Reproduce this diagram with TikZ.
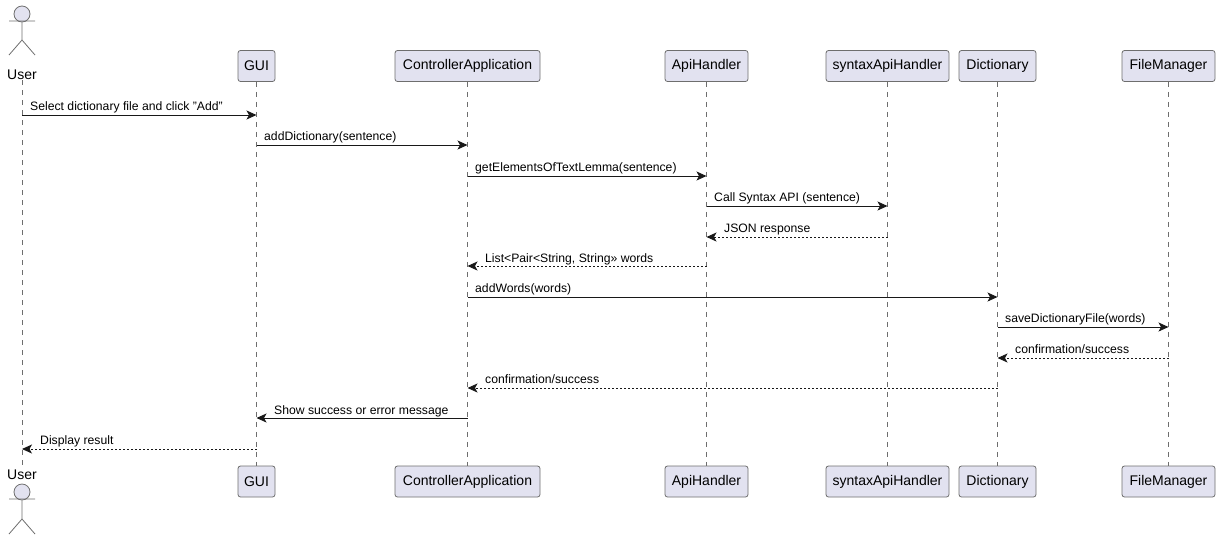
\documentclass[tikz,border=0pt]{standalone}
\usepackage{fontspec}
\setmainfont{Liberation Sans}
\usetikzlibrary{arrows.meta}

\definecolor{partfill}{HTML}{E2E2F0}
\definecolor{partline}{HTML}{6E6E6E}
\definecolor{msgline}{HTML}{181818}

\tikzset{
    part/.style={draw=partline,fill=partfill,rounded corners=2.5pt,line width=0.8pt,minimum height=31pt,inner xsep=0pt,inner ysep=0pt,font=\fontsize{14}{16}\selectfont,text=black},
    life/.style={draw=partline,line width=0.7pt,dash pattern=on 5pt off 5pt},
    actorline/.style={draw=partline,line width=0.8pt},
    msg/.style={draw=msgline,line width=0.9pt,-{Stealth[length=10pt,width=9pt,inset=2.5pt]}},
    reply/.style={msg,dash pattern=on 2pt off 2pt},
    msgtext/.style={anchor=base west,inner sep=0pt,font=\fontsize{12.2}{14}\selectfont,text=black},
    actortext/.style={inner sep=0pt,font=\fontsize{14}{16}\selectfont,text=black}
}

\begin{document}
\begin{tikzpicture}[x=1pt,y=-1pt]
        \useasboundingbox (0,0) rectangle (1220,547);

        % lifeline heads
        \node[actortext] (userTop) at (22,75) {User};
        \node[part,minimum width=37pt] (guiTop) at (256.5,66) {GUI};
        \node[part,minimum width=145pt] (ctrlTop) at (467.5,66) {ControllerApplication};
        \node[part,minimum width=83pt] (apiTop) at (706.5,66) {ApiHandler};
        \node[part,minimum width=123pt] (syntaxTop) at (887.5,66) {syntaxApiHandler};
        \node[part,minimum width=77pt] (dictTop) at (997.5,66) {Dictionary};
        \node[part,minimum width=93pt] (fileTop) at (1168.5,66) {FileManager};

        \node[actortext] (userBot) at (22,475) {User};
        \node[part,minimum width=37pt] (guiBot) at (256.5,481.5) {GUI};
        \node[part,minimum width=145pt] (ctrlBot) at (467.5,481.5) {ControllerApplication};
        \node[part,minimum width=83pt] (apiBot) at (706.5,481.5) {ApiHandler};
        \node[part,minimum width=123pt] (syntaxBot) at (887.5,481.5) {syntaxApiHandler};
        \node[part,minimum width=77pt] (dictBot) at (997.5,481.5) {Dictionary};
        \node[part,minimum width=93pt] (fileBot) at (1168.5,481.5) {FileManager};

        % lifelines
        \foreach \who in {user,gui,ctrl,api,syntax,dict,file}
            \draw[life] (\who Top) -- (\who Bot);

        % actors
        \node[circle,draw=partline,fill=partfill,line width=0.8pt,minimum size=16pt,inner sep=0pt] (headTop) at (22,14) {};
        \draw[actorline] (headTop) -- ++(0,26) ++(-13,-19) -- ++(26,0) ++(-13,19) -- ++(-13,15) ++(13,-15) -- ++(13,15);
        \node[circle,draw=partline,fill=partfill,line width=0.8pt,minimum size=16pt,inner sep=0pt] (headBot) at (22,492) {};
        \draw[actorline] (headBot) -- ++(0,27) ++(-13,-20) -- ++(26,0) ++(-13,20) -- ++(-13,15) ++(13,-15) -- ++(13,15);

        % message rows
        \foreach \row/\ypos in {1/115,2/145,3/176,4/206,5/237,6/266,7/297,8/327,9/358,10/388,11/418,12/449}
            \coordinate (row\row) at (0,\ypos);

        \draw[msg] (userTop |- row1) -- (guiTop |- row1);
        \draw[msg] (guiTop |- row2) -- (ctrlTop |- row2);
        \draw[msg] (ctrlTop |- row3) -- (apiTop |- row3);
        \draw[msg] (apiTop |- row4) -- (syntaxTop |- row4);
        \draw[reply] (syntaxTop |- row5) -- (apiTop |- row5);
        \draw[reply] (apiTop |- row6) -- (ctrlTop |- row6);
        \draw[msg] (ctrlTop |- row7) -- (dictTop |- row7);
        \draw[msg] (dictTop |- row8) -- (fileTop |- row8);
        \draw[reply] (fileTop |- row9) -- (dictTop |- row9);
        \draw[reply] (dictTop |- row10) -- (ctrlTop |- row10);
        \draw[msg] (ctrlTop |- row11) -- (guiTop |- row11);
        \draw[reply] (guiTop |- row12) -- (userTop |- row12);

        % message labels
        \node[msgtext] (text1) at (30,110) {Select dictionary file and click "Add"};
        \node[msgtext] (text2) at (264,140) {addDictionary(sentence)};
        \node[msgtext] (text3) at (475,171) {getElementsOfTextLemma(sentence)};
        \node[msgtext] (text4) at (714,201) {Call Syntax API (sentence)};
        \node[msgtext] (text5) at (724,232) {JSON response};
        \node[msgtext] (text6) at (485,262) {List<Pair<String, String>> words};
        \node[msgtext] (text7) at (475,292) {addWords(words)};
        \node[msgtext] (text8) at (1005,322) {saveDictionaryFile(words)};
        \node[msgtext] (text9) at (1015,353) {confirmation/success};
        \node[msgtext] (text10) at (485,383) {confirmation/success};
        \node[msgtext] (text11) at (274,414) {Show success or error message};
        \node[msgtext] (text12) at (40,444) {Display result};
\end{tikzpicture}
\end{document}
